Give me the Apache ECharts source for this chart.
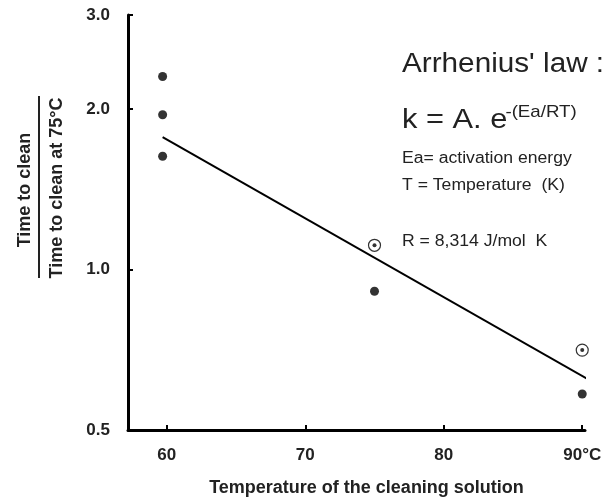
<!DOCTYPE html>
<html>
<head>
<meta charset="utf-8">
<script src="https://cdn.jsdelivr.net/npm/echarts@6/dist/echarts.min.js"></script>
<style>
  html, body { margin: 0; padding: 0; background: #fff; }
  #main { width: 612px; height: 502px; }
</style>
</head>
<body>
<div id="main"></div>
<script>
// measured points (temperature °C, relative time to clean)
var filledX = [59.7, 59.7, 59.7, 75, 90];
var filledY = [2.30, 1.95, 1.63, 0.91, 0.584];
var circledX = [75, 90];
var circledY = [1.11, 0.706];
// fitted Arrhenius line
var fitX = [59.7, 91];
var fitY = [1.77, 0.61];
var xTicks = [60, 70, 80, 90];
var yTicks = [0.5, 1, 2, 3];

function pairs(xs, ys) {
  return xs.map(function (x, i) { return [x, ys[i]]; });
}

var font = 'Liberation Sans, Arial, sans-serif';
var myChart = echarts.init(document.getElementById('main'));

myChart.setOption({
  animation: false,
  grid: { left: 128, right: 27, top: 15, bottom: 72 },
  xAxis: {
    type: 'value',
    min: 57.2,
    max: 90.2,
    splitLine: { show: false },
    axisLine: { lineStyle: { color: '#000', width: 3 } },
    axisTick: { inside: true, length: 5, customValues: xTicks, lineStyle: { color: '#000', width: 2 } },
    axisLabel: {
      customValues: xTicks,
      margin: 17,
      color: '#222',
      fontFamily: font,
      fontWeight: 'bold',
      fontSize: 17,
      formatter: function (v) { return v === 90 ? '90°C' : String(v); }
    },
    name: 'Temperature of the cleaning solution',
    nameLocation: 'middle',
    nameGap: 49,
    nameTextStyle: { color: '#222', fontFamily: font, fontWeight: 'bold', fontSize: 18, padding: [0, 0, 0, 20] }
  },
  yAxis: {
    type: 'log',
    logBase: 2,
    min: 0.5,
    max: 3,
    splitLine: { show: false },
    axisLine: { lineStyle: { color: '#000', width: 3 } },
    axisTick: { inside: true, length: 5, customValues: yTicks, lineStyle: { color: '#000', width: 2 } },
    axisLabel: {
      customValues: yTicks,
      margin: 18,
      color: '#222',
      fontFamily: font,
      fontWeight: 'bold',
      fontSize: 17,
      formatter: function (v) { return Number(v).toFixed(1); }
    }
  },
  series: [
    {
      type: 'line',
      data: pairs(fitX, fitY),
      symbol: 'none',
      clip: false,
      lineStyle: { color: '#000', width: 2 }
    },
    {
      type: 'scatter',
      data: pairs(filledX, filledY),
      symbol: 'circle',
      symbolSize: 9,
      itemStyle: { color: '#000' }
    },
    {
      type: 'scatter',
      data: pairs(circledX, circledY),
      symbol: 'circle',
      symbolSize: 12,
      itemStyle: { color: '#fff', borderColor: '#000', borderWidth: 1.2 }
    },
    {
      type: 'scatter',
      data: pairs(circledX, circledY),
      symbol: 'circle',
      symbolSize: 4,
      itemStyle: { color: '#000' }
    }
  ],
  graphic: [
    // y axis title drawn as a fraction
    {
      type: 'text', x: 25, y: 190, rotation: Math.PI / 2,
      style: { text: 'Time to clean', fontFamily: font, fontWeight: 'bold', fontSize: 18, fill: '#222', align: 'center', verticalAlign: 'middle' }
    },
    {
      type: 'line', shape: { x1: 39, y1: 96, x2: 39, y2: 278 },
      style: { stroke: '#222', lineWidth: 2 }
    },
    {
      type: 'text', x: 57, y: 188, rotation: Math.PI / 2,
      style: { text: 'Time to clean at 75°C', fontFamily: font, fontWeight: 'bold', fontSize: 18, fill: '#222', align: 'center', verticalAlign: 'middle' }
    },
    // Arrhenius annotation
    {
      type: 'group', x: 402, y: 0, scaleX: 1.1,
      children: [
        { type: 'text', x: 0, y: 65, style: { text: "Arrhenius' law :", fontFamily: font, fontSize: 27, fill: '#222', verticalAlign: 'middle' } },
        { type: 'text', x: 0, y: 120, style: { text: 'k = A. e', fontFamily: font, fontSize: 28, fill: '#222', verticalAlign: 'middle' } },
        { type: 'text', x: 94, y: 112, style: { text: '-(Ea/RT)', fontFamily: font, fontSize: 17, fill: '#222', verticalAlign: 'middle' } },
        { type: 'text', x: 0, y: 159, style: { text: 'Ea= activation energy', fontFamily: font, fontSize: 16, fill: '#222', verticalAlign: 'middle' } },
        { type: 'text', x: 0, y: 186, style: { text: 'T = Temperature  (K)', fontFamily: font, fontSize: 16, fill: '#222', verticalAlign: 'middle' } },
        { type: 'text', x: 0, y: 242, style: { text: 'R = 8,314 J/mol  K', fontFamily: font, fontSize: 16, fill: '#222', verticalAlign: 'middle' } }
      ]
    }
  ]
});
</script>
</body>
</html>
